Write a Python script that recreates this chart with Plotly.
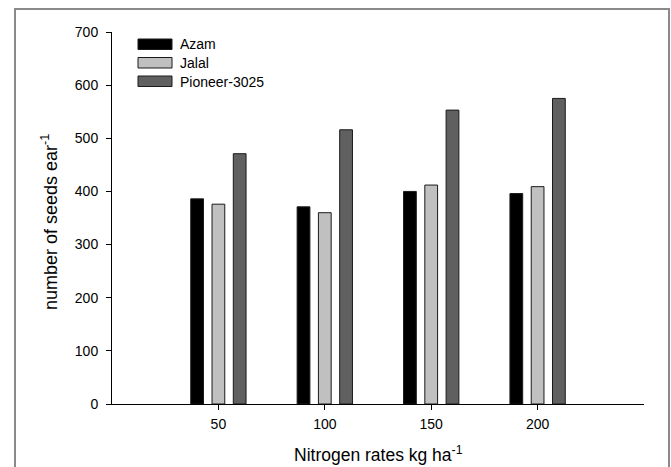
import plotly.graph_objects as go

# ---- data ----
nitrogen_rates = [50, 100, 150, 200]
azam = [386, 371, 400, 396]
jalal = [376, 360, 412, 409]
pioneer = [471, 516, 553, 575]

series_names = ["Azam", "Jalal", "Pioneer-3025"]
series_values = [azam, jalal, pioneer]
series_colors = ["#000000", "#c0c0c0", "#606060"]

y_ticks = [0, 100, 200, 300, 400, 500, 600, 700]
x_ticks = [50, 100, 150, 200]

FONT = "Liberation Sans, Arial, sans-serif"

fig = go.Figure()
for name, vals, col in zip(series_names, series_values, series_colors):
    fig.add_trace(go.Bar(
        x=nitrogen_rates, y=vals, name=name,
        marker=dict(color=col, line=dict(color="#1a1a1a", width=1)),
        showlegend=False,
    ))

# geometry (pixels)
W, H = 671, 467
L, R, T, B = 112, 27, 32, 63
pw, ph = W - L - R, H - T - B

def px_x(x):
    return (x - L) / pw

def px_y(y):
    return (H - B - y) / ph

shapes = []
annotations = []

# outer frame
shapes.append(dict(type="rect", xref="paper", yref="paper",
                   x0=px_x(15), x1=px_x(669), y0=px_y(500), y1=px_y(9),
                   line=dict(color="#8a8a8a", width=2), fillcolor="rgba(0,0,0,0)"))

# legend built from series
row_tops = [39, 57.5, 76]
for i, (name, col) in enumerate(zip(series_names, series_colors)):
    top = row_tops[i]
    shapes.append(dict(type="rect", xref="paper", yref="paper",
                       x0=px_x(138), x1=px_x(172), y0=px_y(top + 10.5), y1=px_y(top),
                       fillcolor=col, line=dict(color="#1a1a1a", width=1)))
    annotations.append(dict(text=name, xref="paper", yref="paper",
                            x=px_x(178), y=px_y(top + 5.5), xanchor="left", yanchor="middle",
                            showarrow=False, font=dict(family=FONT, size=14, color="#000")))

# axis titles
annotations.append(dict(text="Nitrogen rates kg ha<sup>-1</sup>", xref="paper", yref="paper",
                        x=0.5, y=px_y(454), xanchor="center", yanchor="middle",
                        showarrow=False, font=dict(family=FONT, size=17.5, color="#000")))
annotations.append(dict(text="number of seeds ear<sup>-1</sup>", xref="paper", yref="paper",
                        x=px_x(49), y=px_y(222), xanchor="center", yanchor="middle", textangle=-90,
                        showarrow=False, font=dict(family=FONT, size=18, color="#000")))

fig.update_layout(
    width=W, height=H,
    margin=dict(l=L, r=R, t=T, b=B, autoexpand=False),
    paper_bgcolor="white", plot_bgcolor="white",
    barmode="group", bargap=0.4, bargroupgap=0.4,
    font=dict(family=FONT, size=14, color="#000"),
    shapes=shapes, annotations=annotations,
)
fig.update_xaxes(range=[0, 250], tickvals=x_ticks, ticks="outside", ticklen=5, tickwidth=1,
                 tickcolor="#000", showline=True, linecolor="#000", linewidth=1,
                 showgrid=False, zeroline=False, tickfont=dict(size=14), ticklabelstandoff=2)
fig.update_yaxes(range=[0, 700], tickvals=y_ticks, ticks="outside", ticklen=5, tickwidth=1,
                 tickcolor="#000", showline=True, linecolor="#000", linewidth=1,
                 showgrid=False, zeroline=False, tickfont=dict(size=14), ticklabelstandoff=5)

fig.write_html("out.html")
